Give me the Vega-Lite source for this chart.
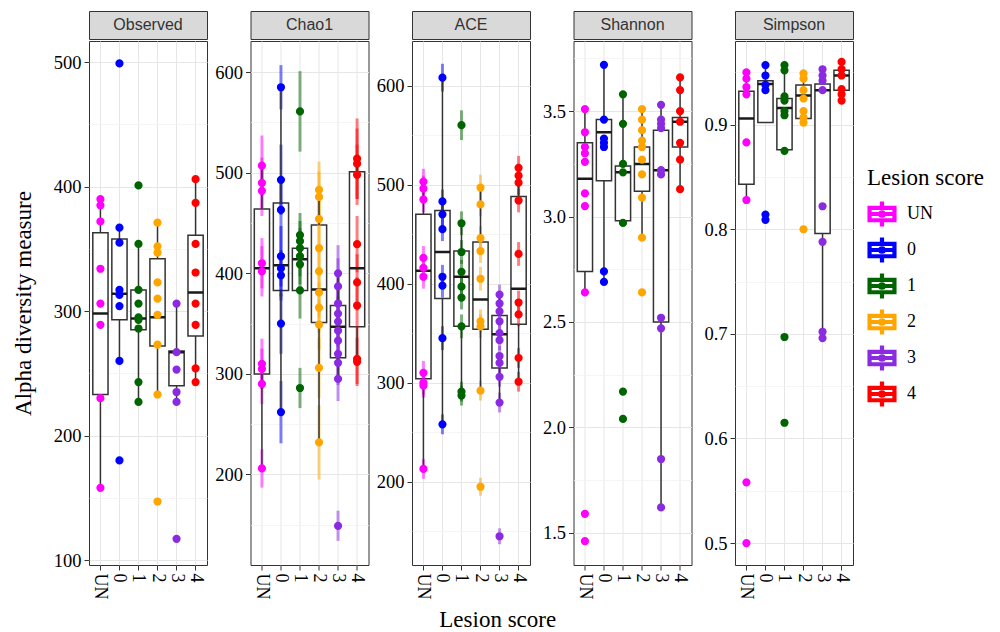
{
"$schema": "https://vega.github.io/schema/vega-lite/v6.json",
"padding": {"left": 11, "top": 10, "right": 5, "bottom": 5},
"background": "white",
"datasets": {
"box": [
{"m":"Observed","g":"UN","lo":158,"q1":233,"med":298,"q3":363,"hi":390},
{"m":"Observed","g":"0","lo":260,"q1":293,"med":314,"q3":358,"hi":367},
{"m":"Observed","g":"1","lo":227,"q1":285,"med":294,"q3":317,"hi":354},
{"m":"Observed","g":"2","lo":233,"q1":272,"med":295,"q3":342,"hi":371},
{"m":"Observed","g":"3","lo":227,"q1":240,"med":267,"q3":268,"hi":306},
{"m":"Observed","g":"4","lo":243,"q1":280,"med":315,"q3":361,"hi":406},
{"m":"Chao1","g":"UN","lo":206,"q1":300,"med":405,"q3":464,"hi":507},
{"m":"Chao1","g":"0","lo":262,"q1":383,"med":408,"q3":470,"hi":585},
{"m":"Chao1","g":"1","lo":383,"q1":383,"med":414,"q3":425,"hi":438},
{"m":"Chao1","g":"2","lo":232,"q1":351,"med":384,"q3":448,"hi":483},
{"m":"Chao1","g":"3","lo":295,"q1":316,"med":347,"q3":368,"hi":400},
{"m":"Chao1","g":"4","lo":312,"q1":347,"med":405,"q3":501,"hi":514},
{"m":"ACE","g":"UN","lo":213,"q1":304,"med":413,"q3":470,"hi":503},
{"m":"ACE","g":"0","lo":258,"q1":385,"med":432,"q3":474,"hi":608},
{"m":"ACE","g":"1","lo":289,"q1":357,"med":407,"q3":433,"hi":461},
{"m":"ACE","g":"2","lo":292,"q1":354,"med":384,"q3":442,"hi":497},
{"m":"ACE","g":"3","lo":280,"q1":315,"med":349,"q3":368,"hi":389},
{"m":"ACE","g":"4","lo":301,"q1":359,"med":395,"q3":488,"hi":517},
{"m":"Shannon","g":"UN","lo":2.64,"q1":2.74,"med":3.18,"q3":3.35,"hi":3.51},
{"m":"Shannon","g":"0","lo":2.69,"q1":3.17,"med":3.40,"q3":3.46,"hi":3.72},
{"m":"Shannon","g":"1","lo":2.97,"q1":2.98,"med":3.21,"q3":3.24,"hi":3.58},
{"m":"Shannon","g":"2","lo":2.90,"q1":3.12,"med":3.25,"q3":3.33,"hi":3.51},
{"m":"Shannon","g":"3","lo":1.62,"q1":2.50,"med":3.22,"q3":3.41,"hi":3.53},
{"m":"Shannon","g":"4","lo":3.13,"q1":3.33,"med":3.45,"q3":3.47,"hi":3.66},
{"m":"Simpson","g":"UN","lo":0.828,"q1":0.843,"med":0.906,"q3":0.932,"hi":0.950},
{"m":"Simpson","g":"0","lo":0.902,"q1":0.902,"med":0.939,"q3":0.942,"hi":0.957},
{"m":"Simpson","g":"1","lo":0.875,"q1":0.876,"med":0.916,"q3":0.925,"hi":0.957},
{"m":"Simpson","g":"2","lo":0.902,"q1":0.906,"med":0.928,"q3":0.938,"hi":0.949},
{"m":"Simpson","g":"3","lo":0.696,"q1":0.796,"med":0.933,"q3":0.939,"hi":0.953},
{"m":"Simpson","g":"4","lo":0.923,"q1":0.933,"med":0.947,"q3":0.952,"hi":0.960}
],
"pts": [
{"m":"Observed","g":"UN","v":390},{"m":"Observed","g":"UN","v":385},{"m":"Observed","g":"UN","v":372},{"m":"Observed","g":"UN","v":334},{"m":"Observed","g":"UN","v":306},{"m":"Observed","g":"UN","v":289},{"m":"Observed","g":"UN","v":230},{"m":"Observed","g":"UN","v":158},
{"m":"Observed","g":"0","v":499},{"m":"Observed","g":"0","v":367},{"m":"Observed","g":"0","v":355},{"m":"Observed","g":"0","v":317},{"m":"Observed","g":"0","v":313},{"m":"Observed","g":"0","v":304},{"m":"Observed","g":"0","v":260},{"m":"Observed","g":"0","v":180},
{"m":"Observed","g":"1","v":401},{"m":"Observed","g":"1","v":354},{"m":"Observed","g":"1","v":317},{"m":"Observed","g":"1","v":306},{"m":"Observed","g":"1","v":295},{"m":"Observed","g":"1","v":293},{"m":"Observed","g":"1","v":286},{"m":"Observed","g":"1","v":243},{"m":"Observed","g":"1","v":227},
{"m":"Observed","g":"2","v":371},{"m":"Observed","g":"2","v":352},{"m":"Observed","g":"2","v":347},{"m":"Observed","g":"2","v":323},{"m":"Observed","g":"2","v":310},{"m":"Observed","g":"2","v":297},{"m":"Observed","g":"2","v":273},{"m":"Observed","g":"2","v":233},{"m":"Observed","g":"2","v":147},
{"m":"Observed","g":"3","v":306},{"m":"Observed","g":"3","v":267},{"m":"Observed","g":"3","v":253},{"m":"Observed","g":"3","v":235},{"m":"Observed","g":"3","v":227},{"m":"Observed","g":"3","v":117},
{"m":"Observed","g":"4","v":406},{"m":"Observed","g":"4","v":387},{"m":"Observed","g":"4","v":354},{"m":"Observed","g":"4","v":331},{"m":"Observed","g":"4","v":306},{"m":"Observed","g":"4","v":289},{"m":"Observed","g":"4","v":254},{"m":"Observed","g":"4","v":243},
{"m":"Chao1","g":"UN","v":507,"lo":477,"hi":537},{"m":"Chao1","g":"UN","v":490,"lo":465,"hi":515},{"m":"Chao1","g":"UN","v":482,"lo":457,"hi":507},{"m":"Chao1","g":"UN","v":410,"lo":385,"hi":435},{"m":"Chao1","g":"UN","v":402,"lo":377,"hi":427},{"m":"Chao1","g":"UN","v":310,"lo":285,"hi":335},{"m":"Chao1","g":"UN","v":305,"lo":285,"hi":325},{"m":"Chao1","g":"UN","v":290,"lo":270,"hi":310},{"m":"Chao1","g":"UN","v":206,"lo":187,"hi":225},
{"m":"Chao1","g":"0","v":585,"lo":563,"hi":607},{"m":"Chao1","g":"0","v":493,"lo":458,"hi":528},{"m":"Chao1","g":"0","v":463,"lo":433,"hi":493},{"m":"Chao1","g":"0","v":417,"lo":387,"hi":447},{"m":"Chao1","g":"0","v":405,"lo":377,"hi":433},{"m":"Chao1","g":"0","v":398,"lo":373,"hi":423},{"m":"Chao1","g":"0","v":350,"lo":320,"hi":380},{"m":"Chao1","g":"0","v":262,"lo":231,"hi":293},
{"m":"Chao1","g":"1","v":561,"lo":521,"hi":601},{"m":"Chao1","g":"1","v":438,"lo":416,"hi":460},{"m":"Chao1","g":"1","v":432,"lo":412,"hi":452},{"m":"Chao1","g":"1","v":425,"lo":405,"hi":445},{"m":"Chao1","g":"1","v":417,"lo":397,"hi":437},{"m":"Chao1","g":"1","v":409,"lo":389,"hi":429},{"m":"Chao1","g":"1","v":383,"lo":355,"hi":411},{"m":"Chao1","g":"1","v":286,"lo":266,"hi":306},
{"m":"Chao1","g":"2","v":483,"lo":455,"hi":511},{"m":"Chao1","g":"2","v":476,"lo":451,"hi":501},{"m":"Chao1","g":"2","v":454,"lo":429,"hi":479},{"m":"Chao1","g":"2","v":425,"lo":400,"hi":450},{"m":"Chao1","g":"2","v":402,"lo":377,"hi":427},{"m":"Chao1","g":"2","v":381,"lo":356,"hi":406},{"m":"Chao1","g":"2","v":366,"lo":341,"hi":391},{"m":"Chao1","g":"2","v":349,"lo":324,"hi":374},{"m":"Chao1","g":"2","v":306,"lo":276,"hi":336},{"m":"Chao1","g":"2","v":232,"lo":195,"hi":269},
{"m":"Chao1","g":"3","v":400,"lo":372,"hi":428},{"m":"Chao1","g":"3","v":387,"lo":359,"hi":415},{"m":"Chao1","g":"3","v":370,"lo":345,"hi":395},{"m":"Chao1","g":"3","v":360,"lo":335,"hi":385},{"m":"Chao1","g":"3","v":352,"lo":327,"hi":377},{"m":"Chao1","g":"3","v":343,"lo":318,"hi":368},{"m":"Chao1","g":"3","v":333,"lo":308,"hi":358},{"m":"Chao1","g":"3","v":320,"lo":295,"hi":345},{"m":"Chao1","g":"3","v":311,"lo":289,"hi":333},{"m":"Chao1","g":"3","v":295,"lo":273,"hi":317},{"m":"Chao1","g":"3","v":149,"lo":134,"hi":164},
{"m":"Chao1","g":"4","v":514,"lo":474,"hi":554},{"m":"Chao1","g":"4","v":509,"lo":474,"hi":544},{"m":"Chao1","g":"4","v":498,"lo":468,"hi":528},{"m":"Chao1","g":"4","v":429,"lo":401,"hi":457},{"m":"Chao1","g":"4","v":391,"lo":363,"hi":419},{"m":"Chao1","g":"4","v":368,"lo":340,"hi":396},{"m":"Chao1","g":"4","v":315,"lo":290,"hi":340},{"m":"Chao1","g":"4","v":312,"lo":288,"hi":336},
{"m":"ACE","g":"UN","v":503,"lo":490,"hi":516},{"m":"ACE","g":"UN","v":496,"lo":483,"hi":509},{"m":"ACE","g":"UN","v":485,"lo":472,"hi":498},{"m":"ACE","g":"UN","v":426,"lo":414,"hi":438},{"m":"ACE","g":"UN","v":416,"lo":404,"hi":428},{"m":"ACE","g":"UN","v":407,"lo":395,"hi":419},{"m":"ACE","g":"UN","v":310,"lo":298,"hi":322},{"m":"ACE","g":"UN","v":300,"lo":288,"hi":312},{"m":"ACE","g":"UN","v":297,"lo":285,"hi":309},{"m":"ACE","g":"UN","v":213,"lo":203,"hi":223},
{"m":"ACE","g":"0","v":608,"lo":594,"hi":622},{"m":"ACE","g":"0","v":483,"lo":471,"hi":495},{"m":"ACE","g":"0","v":470,"lo":458,"hi":482},{"m":"ACE","g":"0","v":455,"lo":443,"hi":467},{"m":"ACE","g":"0","v":407,"lo":395,"hi":419},{"m":"ACE","g":"0","v":398,"lo":386,"hi":410},{"m":"ACE","g":"0","v":345,"lo":333,"hi":357},{"m":"ACE","g":"0","v":258,"lo":248,"hi":268},
{"m":"ACE","g":"1","v":560,"lo":545,"hi":575},{"m":"ACE","g":"1","v":461,"lo":449,"hi":473},{"m":"ACE","g":"1","v":432,"lo":420,"hi":444},{"m":"ACE","g":"1","v":412,"lo":400,"hi":424},{"m":"ACE","g":"1","v":397,"lo":385,"hi":409},{"m":"ACE","g":"1","v":386,"lo":374,"hi":398},{"m":"ACE","g":"1","v":357,"lo":345,"hi":369},{"m":"ACE","g":"1","v":291,"lo":281,"hi":301},{"m":"ACE","g":"1","v":287,"lo":277,"hi":297},
{"m":"ACE","g":"2","v":497,"lo":484,"hi":510},{"m":"ACE","g":"2","v":480,"lo":468,"hi":492},{"m":"ACE","g":"2","v":446,"lo":434,"hi":458},{"m":"ACE","g":"2","v":433,"lo":421,"hi":445},{"m":"ACE","g":"2","v":405,"lo":393,"hi":417},{"m":"ACE","g":"2","v":362,"lo":350,"hi":374},{"m":"ACE","g":"2","v":357,"lo":345,"hi":369},{"m":"ACE","g":"2","v":292,"lo":282,"hi":302},{"m":"ACE","g":"2","v":195,"lo":186,"hi":204},
{"m":"ACE","g":"3","v":389,"lo":379,"hi":399},{"m":"ACE","g":"3","v":380,"lo":370,"hi":390},{"m":"ACE","g":"3","v":372,"lo":362,"hi":382},{"m":"ACE","g":"3","v":362,"lo":352,"hi":372},{"m":"ACE","g":"3","v":350,"lo":340,"hi":360},{"m":"ACE","g":"3","v":343,"lo":333,"hi":353},{"m":"ACE","g":"3","v":327,"lo":317,"hi":337},{"m":"ACE","g":"3","v":320,"lo":310,"hi":330},{"m":"ACE","g":"3","v":306,"lo":296,"hi":316},{"m":"ACE","g":"3","v":280,"lo":270,"hi":290},{"m":"ACE","g":"3","v":145,"lo":137,"hi":153},
{"m":"ACE","g":"4","v":517,"lo":505,"hi":529},{"m":"ACE","g":"4","v":509,"lo":497,"hi":521},{"m":"ACE","g":"4","v":502,"lo":490,"hi":514},{"m":"ACE","g":"4","v":484,"lo":472,"hi":496},{"m":"ACE","g":"4","v":430,"lo":418,"hi":442},{"m":"ACE","g":"4","v":381,"lo":369,"hi":393},{"m":"ACE","g":"4","v":369,"lo":357,"hi":381},{"m":"ACE","g":"4","v":325,"lo":315,"hi":335},{"m":"ACE","g":"4","v":301,"lo":291,"hi":311},
{"m":"Shannon","g":"UN","v":3.51},{"m":"Shannon","g":"UN","v":3.40},{"m":"Shannon","g":"UN","v":3.33},{"m":"Shannon","g":"UN","v":3.30},{"m":"Shannon","g":"UN","v":3.26},{"m":"Shannon","g":"UN","v":3.11},{"m":"Shannon","g":"UN","v":3.05},{"m":"Shannon","g":"UN","v":2.64},{"m":"Shannon","g":"UN","v":1.59},{"m":"Shannon","g":"UN","v":1.46},
{"m":"Shannon","g":"0","v":3.72},{"m":"Shannon","g":"0","v":3.46},{"m":"Shannon","g":"0","v":3.37},{"m":"Shannon","g":"0","v":3.35},{"m":"Shannon","g":"0","v":3.33},{"m":"Shannon","g":"0","v":2.74},{"m":"Shannon","g":"0","v":2.69},
{"m":"Shannon","g":"1","v":3.58},{"m":"Shannon","g":"1","v":3.44},{"m":"Shannon","g":"1","v":3.25},{"m":"Shannon","g":"1","v":3.21},{"m":"Shannon","g":"1","v":2.97},{"m":"Shannon","g":"1","v":2.17},{"m":"Shannon","g":"1","v":2.04},
{"m":"Shannon","g":"2","v":3.51},{"m":"Shannon","g":"2","v":3.46},{"m":"Shannon","g":"2","v":3.41},{"m":"Shannon","g":"2","v":3.36},{"m":"Shannon","g":"2","v":3.33},{"m":"Shannon","g":"2","v":3.27},{"m":"Shannon","g":"2","v":3.20},{"m":"Shannon","g":"2","v":3.09},{"m":"Shannon","g":"2","v":2.90},{"m":"Shannon","g":"2","v":2.64},
{"m":"Shannon","g":"3","v":3.53},{"m":"Shannon","g":"3","v":3.46},{"m":"Shannon","g":"3","v":3.44},{"m":"Shannon","g":"3","v":3.42},{"m":"Shannon","g":"3","v":3.22},{"m":"Shannon","g":"3","v":3.20},{"m":"Shannon","g":"3","v":2.52},{"m":"Shannon","g":"3","v":2.47},{"m":"Shannon","g":"3","v":1.85},{"m":"Shannon","g":"3","v":1.62},
{"m":"Shannon","g":"4","v":3.66},{"m":"Shannon","g":"4","v":3.60},{"m":"Shannon","g":"4","v":3.50},{"m":"Shannon","g":"4","v":3.45},{"m":"Shannon","g":"4","v":3.35},{"m":"Shannon","g":"4","v":3.27},{"m":"Shannon","g":"4","v":3.13},
{"m":"Simpson","g":"UN","v":0.950},{"m":"Simpson","g":"UN","v":0.944},{"m":"Simpson","g":"UN","v":0.936},{"m":"Simpson","g":"UN","v":0.929},{"m":"Simpson","g":"UN","v":0.883},{"m":"Simpson","g":"UN","v":0.828},{"m":"Simpson","g":"UN","v":0.558},{"m":"Simpson","g":"UN","v":0.500},
{"m":"Simpson","g":"0","v":0.957},{"m":"Simpson","g":"0","v":0.947},{"m":"Simpson","g":"0","v":0.938},{"m":"Simpson","g":"0","v":0.933},{"m":"Simpson","g":"0","v":0.814},{"m":"Simpson","g":"0","v":0.809},
{"m":"Simpson","g":"1","v":0.957},{"m":"Simpson","g":"1","v":0.952},{"m":"Simpson","g":"1","v":0.927},{"m":"Simpson","g":"1","v":0.923},{"m":"Simpson","g":"1","v":0.913},{"m":"Simpson","g":"1","v":0.909},{"m":"Simpson","g":"1","v":0.875},{"m":"Simpson","g":"1","v":0.697},{"m":"Simpson","g":"1","v":0.615},
{"m":"Simpson","g":"2","v":0.949},{"m":"Simpson","g":"2","v":0.944},{"m":"Simpson","g":"2","v":0.933},{"m":"Simpson","g":"2","v":0.925},{"m":"Simpson","g":"2","v":0.913},{"m":"Simpson","g":"2","v":0.907},{"m":"Simpson","g":"2","v":0.902},{"m":"Simpson","g":"2","v":0.800},
{"m":"Simpson","g":"3","v":0.953},{"m":"Simpson","g":"3","v":0.947},{"m":"Simpson","g":"3","v":0.942},{"m":"Simpson","g":"3","v":0.933},{"m":"Simpson","g":"3","v":0.822},{"m":"Simpson","g":"3","v":0.788},{"m":"Simpson","g":"3","v":0.702},{"m":"Simpson","g":"3","v":0.696},
{"m":"Simpson","g":"4","v":0.960},{"m":"Simpson","g":"4","v":0.953},{"m":"Simpson","g":"4","v":0.947},{"m":"Simpson","g":"4","v":0.934},{"m":"Simpson","g":"4","v":0.929},{"m":"Simpson","g":"4","v":0.923}
]
},
"config": {
  "view": {"stroke": "#333333", "strokeWidth": 1},
  "axis": {"labelFont": "Liberation Serif", "labelFontSize": 18.5, "labelColor": "#000000", "tickColor": "#333333", "tickSize": 5, "domain": false, "gridColor": "#e6e6e6", "gridWidth": 1, "titleFont": "Liberation Serif", "titleFontWeight": "normal", "titleColor": "#000000", "titleFontSize": 23, "labelPadding": 3},
  "axisX": {"labelAngle": 90, "grid": true, "labelFontSize": 18},
  "legend": {"titleFont": "Liberation Serif", "titleFontSize": 23, "titleFontWeight": "normal", "titleColor": "#000000", "labelFont": "Liberation Serif", "labelFontSize": 18, "labelColor": "#000000"},
  "point": {"filled": false, "shape": "circle", "size": 16, "strokeWidth": 4.2, "opacity": 1}
},
"title": {"text": "Lesion score", "orient": "bottom", "anchor": "middle", "font": "Liberation Serif", "fontSize": 23, "fontWeight": "normal", "color": "#000000", "offset": 10},
"spacing": 3.5,
"hconcat": [
{"spacing": 0, "vconcat": [
 {"width": 118, "height": 28, "view": {"fill": "#d9d9d9", "stroke": "#333333"}, "data": {"values": [{"t": "Observed"}]}, "mark": {"type": "text", "font": "Liberation Sans", "fontSize": 16, "color": "#333333"}, "encoding": {"text": {"field": "t", "type": "nominal"}}},
 {"width": 118, "height": 524, "resolve": {"axis": {"y": "independent"}}, "layer": [
  {"data": {"name": "box"}, "transform": [{"filter": "datum.m === 'Observed'"}], "mark": {"type": "bar", "fill": "white", "stroke": "#333333", "strokeWidth": 1.5},
   "encoding": {"x": {"field": "g", "type": "nominal", "title": null, "scale": {"domain": ["UN","0","1","2","3","4"], "paddingInner": 0.2, "paddingOuter": 0.2}},
     "y": {"field": "q3", "type": "quantitative", "scale": {"domain": [96, 517], "nice": false, "zero": false}, "axis": {"orient": "right", "values": [150,250,350,450], "labels": false, "ticks": false, "domain": false, "grid": true, "gridColor": "#f0f0f0", "gridWidth": 0.7, "minExtent": 0, "maxExtent": 0, "title": null}},
     "y2": {"field": "q1"}}},
  {"data": {"name": "box"}, "transform": [{"filter": "datum.m === 'Observed'"}], "mark": {"type": "rule", "stroke": "#333333", "strokeWidth": 1.5},
   "encoding": {"x": {"field": "g", "type": "nominal", "title": null},
     "y": {"field": "hi", "type": "quantitative", "axis": {"orient": "left", "values": [100,200,300,400,500], "format": "d", "title": "Alpha diversity measure", "titlePadding": 16, "grid": true, "minExtent": 38, "maxExtent": 38}},
     "y2": {"field": "q3"}}},
  {"data": {"name": "box"}, "transform": [{"filter": "datum.m === 'Observed'"}], "mark": {"type": "rule", "stroke": "#333333", "strokeWidth": 1.5},
   "encoding": {"x": {"field": "g", "type": "nominal", "title": null}, "y": {"field": "lo", "type": "quantitative", "axis": null}, "y2": {"field": "q1"}}},
  {"data": {"name": "box"}, "transform": [{"filter": "datum.m === 'Observed'"}], "mark": {"type": "bar", "fill": null, "fillOpacity": 0, "stroke": "#1a1a1a", "strokeWidth": 2.5},
   "encoding": {"x": {"field": "g", "type": "nominal", "title": null}, "y": {"field": "med", "type": "quantitative", "axis": null}, "y2": {"field": "med"}}},
  {"data": {"name": "pts"}, "transform": [{"filter": "datum.m === 'Observed'"}], "mark": {"type": "point"},
   "encoding": {"x": {"field": "g", "type": "nominal", "title": null}, "y": {"field": "v", "type": "quantitative", "axis": null},
     "color": {"field": "g", "type": "nominal", "scale": {"domain": ["UN","0","1","2","3","4"], "range": ["#FF00FF","#0000FF","#006400","#FFA500","#8A2BE2","#FF0000"]},
       "legend": {"title": "Lesion score", "orient": "none", "legendX": 778, "legendY": 156, "symbolType": "M-1,-0.5H1V0.5H-1Z M-1,0H1 M0,-1V-0.5 M0,0.5V1 M-0.14,0A0.14,0.14 0 1,0 0.14,0A0.14,0.14 0 1,0 -0.14,0", "symbolSize": 620, "symbolStrokeWidth": 2, "symbolOpacity": 1, "rowPadding": -12.5, "labelOffset": 10, "titlePadding": 9}}}}
 ]}
]},
{"spacing": 0, "vconcat": [
 {"width": 118, "height": 28, "view": {"fill": "#d9d9d9", "stroke": "#333333"}, "data": {"values": [{"t": "Chao1"}]}, "mark": {"type": "text", "font": "Liberation Sans", "fontSize": 16, "color": "#333333"}, "encoding": {"text": {"field": "t", "type": "nominal"}}},
 {"width": 118, "height": 524, "resolve": {"axis": {"y": "independent"}}, "layer": [
  {"data": {"name": "box"}, "transform": [{"filter": "datum.m === 'Chao1'"}], "mark": {"type": "bar", "fill": "white", "stroke": "#333333", "strokeWidth": 1.5},
   "encoding": {"x": {"field": "g", "type": "nominal", "title": null, "scale": {"domain": ["UN","0","1","2","3","4"], "paddingInner": 0.2, "paddingOuter": 0.2}},
     "y": {"field": "q3", "type": "quantitative", "scale": {"domain": [110, 631], "nice": false, "zero": false}, "axis": {"orient": "right", "values": [150,250,350,450,550], "labels": false, "ticks": false, "domain": false, "grid": true, "gridColor": "#f0f0f0", "gridWidth": 0.7, "minExtent": 0, "maxExtent": 0, "title": null}},
     "y2": {"field": "q1"}}},
  {"data": {"name": "pts"}, "transform": [{"filter": "datum.m === 'Chao1'"}], "mark": {"type": "rule", "strokeWidth": 3, "opacity": 0.5},
   "encoding": {"x": {"field": "g", "type": "nominal", "title": null}, "y": {"field": "lo", "type": "quantitative", "axis": null}, "y2": {"field": "hi"},
     "color": {"field": "g", "type": "nominal"}}},
  {"data": {"name": "box"}, "transform": [{"filter": "datum.m === 'Chao1'"}], "mark": {"type": "rule", "stroke": "#333333", "strokeWidth": 1.5},
   "encoding": {"x": {"field": "g", "type": "nominal", "title": null},
     "y": {"field": "hi", "type": "quantitative", "axis": {"orient": "left", "values": [200,300,400,500,600], "format": "d", "title": null, "grid": true, "minExtent": 38, "maxExtent": 38}},
     "y2": {"field": "q3"}}},
  {"data": {"name": "box"}, "transform": [{"filter": "datum.m === 'Chao1'"}], "mark": {"type": "rule", "stroke": "#333333", "strokeWidth": 1.5},
   "encoding": {"x": {"field": "g", "type": "nominal", "title": null}, "y": {"field": "lo", "type": "quantitative", "axis": null}, "y2": {"field": "q1"}}},
  {"data": {"name": "box"}, "transform": [{"filter": "datum.m === 'Chao1'"}], "mark": {"type": "bar", "fill": null, "fillOpacity": 0, "stroke": "#1a1a1a", "strokeWidth": 2.5},
   "encoding": {"x": {"field": "g", "type": "nominal", "title": null}, "y": {"field": "med", "type": "quantitative", "axis": null}, "y2": {"field": "med"}}},
  {"data": {"name": "pts"}, "transform": [{"filter": "datum.m === 'Chao1'"}], "mark": {"type": "point"},
   "encoding": {"x": {"field": "g", "type": "nominal", "title": null}, "y": {"field": "v", "type": "quantitative", "axis": null}, "color": {"field": "g", "type": "nominal"}}}
 ]}
]},
{"spacing": 0, "vconcat": [
 {"width": 118, "height": 28, "view": {"fill": "#d9d9d9", "stroke": "#333333"}, "data": {"values": [{"t": "ACE"}]}, "mark": {"type": "text", "font": "Liberation Sans", "fontSize": 16, "color": "#333333"}, "encoding": {"text": {"field": "t", "type": "nominal"}}},
 {"width": 118, "height": 524, "resolve": {"axis": {"y": "independent"}}, "layer": [
  {"data": {"name": "box"}, "transform": [{"filter": "datum.m === 'ACE'"}], "mark": {"type": "bar", "fill": "white", "stroke": "#333333", "strokeWidth": 1.5},
   "encoding": {"x": {"field": "g", "type": "nominal", "title": null, "scale": {"domain": ["UN","0","1","2","3","4"], "paddingInner": 0.2, "paddingOuter": 0.2}},
     "y": {"field": "q3", "type": "quantitative", "scale": {"domain": [116, 645], "nice": false, "zero": false}, "axis": {"orient": "right", "values": [150,250,350,450,550], "labels": false, "ticks": false, "domain": false, "grid": true, "gridColor": "#f0f0f0", "gridWidth": 0.7, "minExtent": 0, "maxExtent": 0, "title": null}},
     "y2": {"field": "q1"}}},
  {"data": {"name": "pts"}, "transform": [{"filter": "datum.m === 'ACE'"}], "mark": {"type": "rule", "strokeWidth": 3, "opacity": 0.5},
   "encoding": {"x": {"field": "g", "type": "nominal", "title": null}, "y": {"field": "lo", "type": "quantitative", "axis": null}, "y2": {"field": "hi"},
     "color": {"field": "g", "type": "nominal"}}},
  {"data": {"name": "box"}, "transform": [{"filter": "datum.m === 'ACE'"}], "mark": {"type": "rule", "stroke": "#333333", "strokeWidth": 1.5},
   "encoding": {"x": {"field": "g", "type": "nominal", "title": null},
     "y": {"field": "hi", "type": "quantitative", "axis": {"orient": "left", "values": [200,300,400,500,600], "format": "d", "title": null, "grid": true, "minExtent": 38, "maxExtent": 38}},
     "y2": {"field": "q3"}}},
  {"data": {"name": "box"}, "transform": [{"filter": "datum.m === 'ACE'"}], "mark": {"type": "rule", "stroke": "#333333", "strokeWidth": 1.5},
   "encoding": {"x": {"field": "g", "type": "nominal", "title": null}, "y": {"field": "lo", "type": "quantitative", "axis": null}, "y2": {"field": "q1"}}},
  {"data": {"name": "box"}, "transform": [{"filter": "datum.m === 'ACE'"}], "mark": {"type": "bar", "fill": null, "fillOpacity": 0, "stroke": "#1a1a1a", "strokeWidth": 2.5},
   "encoding": {"x": {"field": "g", "type": "nominal", "title": null}, "y": {"field": "med", "type": "quantitative", "axis": null}, "y2": {"field": "med"}}},
  {"data": {"name": "pts"}, "transform": [{"filter": "datum.m === 'ACE'"}], "mark": {"type": "point"},
   "encoding": {"x": {"field": "g", "type": "nominal", "title": null}, "y": {"field": "v", "type": "quantitative", "axis": null}, "color": {"field": "g", "type": "nominal"}}}
 ]}
]},
{"spacing": 0, "vconcat": [
 {"width": 118, "height": 28, "view": {"fill": "#d9d9d9", "stroke": "#333333"}, "data": {"values": [{"t": "Shannon"}]}, "mark": {"type": "text", "font": "Liberation Sans", "fontSize": 16, "color": "#333333"}, "encoding": {"text": {"field": "t", "type": "nominal"}}},
 {"width": 118, "height": 524, "resolve": {"axis": {"y": "independent"}}, "layer": [
  {"data": {"name": "box"}, "transform": [{"filter": "datum.m === 'Shannon'"}], "mark": {"type": "bar", "fill": "white", "stroke": "#333333", "strokeWidth": 1.5},
   "encoding": {"x": {"field": "g", "type": "nominal", "title": null, "scale": {"domain": ["UN","0","1","2","3","4"], "paddingInner": 0.2, "paddingOuter": 0.2}},
     "y": {"field": "q3", "type": "quantitative", "scale": {"domain": [1.347, 3.833], "nice": false, "zero": false}, "axis": {"orient": "right", "values": [1.75,2.25,2.75,3.25,3.75], "labels": false, "ticks": false, "domain": false, "grid": true, "gridColor": "#f0f0f0", "gridWidth": 0.7, "minExtent": 0, "maxExtent": 0, "title": null}},
     "y2": {"field": "q1"}}},
  {"data": {"name": "box"}, "transform": [{"filter": "datum.m === 'Shannon'"}], "mark": {"type": "rule", "stroke": "#333333", "strokeWidth": 1.5},
   "encoding": {"x": {"field": "g", "type": "nominal", "title": null},
     "y": {"field": "hi", "type": "quantitative", "axis": {"orient": "left", "values": [1.5,2,2.5,3,3.5], "format": ".1f", "title": null, "grid": true, "minExtent": 38, "maxExtent": 38}},
     "y2": {"field": "q3"}}},
  {"data": {"name": "box"}, "transform": [{"filter": "datum.m === 'Shannon'"}], "mark": {"type": "rule", "stroke": "#333333", "strokeWidth": 1.5},
   "encoding": {"x": {"field": "g", "type": "nominal", "title": null}, "y": {"field": "lo", "type": "quantitative", "axis": null}, "y2": {"field": "q1"}}},
  {"data": {"name": "box"}, "transform": [{"filter": "datum.m === 'Shannon'"}], "mark": {"type": "bar", "fill": null, "fillOpacity": 0, "stroke": "#1a1a1a", "strokeWidth": 2.5},
   "encoding": {"x": {"field": "g", "type": "nominal", "title": null}, "y": {"field": "med", "type": "quantitative", "axis": null}, "y2": {"field": "med"}}},
  {"data": {"name": "pts"}, "transform": [{"filter": "datum.m === 'Shannon'"}], "mark": {"type": "point"},
   "encoding": {"x": {"field": "g", "type": "nominal", "title": null}, "y": {"field": "v", "type": "quantitative", "axis": null}, "color": {"field": "g", "type": "nominal"}}}
 ]}
]},
{"spacing": 0, "vconcat": [
 {"width": 118, "height": 28, "view": {"fill": "#d9d9d9", "stroke": "#333333"}, "data": {"values": [{"t": "Simpson"}]}, "mark": {"type": "text", "font": "Liberation Sans", "fontSize": 16, "color": "#333333"}, "encoding": {"text": {"field": "t", "type": "nominal"}}},
 {"width": 118, "height": 524, "resolve": {"axis": {"y": "independent"}}, "layer": [
  {"data": {"name": "box"}, "transform": [{"filter": "datum.m === 'Simpson'"}], "mark": {"type": "bar", "fill": "white", "stroke": "#333333", "strokeWidth": 1.5},
   "encoding": {"x": {"field": "g", "type": "nominal", "title": null, "scale": {"domain": ["UN","0","1","2","3","4"], "paddingInner": 0.2, "paddingOuter": 0.2}},
     "y": {"field": "q3", "type": "quantitative", "scale": {"domain": [0.479, 0.98], "nice": false, "zero": false}, "axis": {"orient": "right", "values": [0.55,0.65,0.75,0.85,0.95], "labels": false, "ticks": false, "domain": false, "grid": true, "gridColor": "#f0f0f0", "gridWidth": 0.7, "minExtent": 0, "maxExtent": 0, "title": null}},
     "y2": {"field": "q1"}}},
  {"data": {"name": "box"}, "transform": [{"filter": "datum.m === 'Simpson'"}], "mark": {"type": "rule", "stroke": "#333333", "strokeWidth": 1.5},
   "encoding": {"x": {"field": "g", "type": "nominal", "title": null},
     "y": {"field": "hi", "type": "quantitative", "axis": {"orient": "left", "values": [0.5,0.6,0.7,0.8,0.9], "format": ".1f", "title": null, "grid": true, "minExtent": 38, "maxExtent": 38}},
     "y2": {"field": "q3"}}},
  {"data": {"name": "box"}, "transform": [{"filter": "datum.m === 'Simpson'"}], "mark": {"type": "rule", "stroke": "#333333", "strokeWidth": 1.5},
   "encoding": {"x": {"field": "g", "type": "nominal", "title": null}, "y": {"field": "lo", "type": "quantitative", "axis": null}, "y2": {"field": "q1"}}},
  {"data": {"name": "box"}, "transform": [{"filter": "datum.m === 'Simpson'"}], "mark": {"type": "bar", "fill": null, "fillOpacity": 0, "stroke": "#1a1a1a", "strokeWidth": 2.5},
   "encoding": {"x": {"field": "g", "type": "nominal", "title": null}, "y": {"field": "med", "type": "quantitative", "axis": null}, "y2": {"field": "med"}}},
  {"data": {"name": "pts"}, "transform": [{"filter": "datum.m === 'Simpson'"}], "mark": {"type": "point"},
   "encoding": {"x": {"field": "g", "type": "nominal", "title": null}, "y": {"field": "v", "type": "quantitative", "axis": null}, "color": {"field": "g", "type": "nominal"}}}
 ]}
]}
]
}
